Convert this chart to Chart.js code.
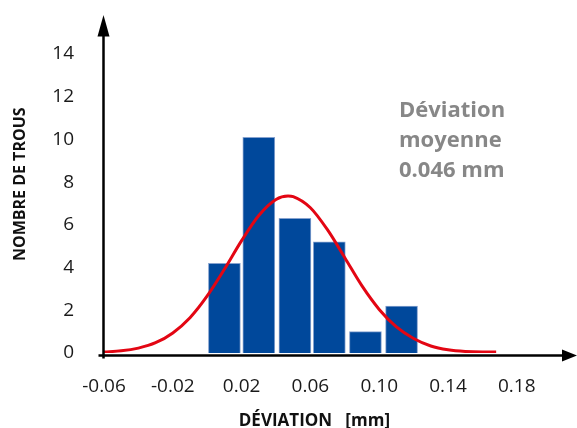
<!DOCTYPE html>
<html>
<head>
<meta charset="utf-8">
<script src="https://cdn.jsdelivr.net/npm/chart.js@4/dist/chart.umd.min.js"></script>
<style>
  html, body { margin: 0; padding: 0; background: #fff; }
  #wrap { width: 577px; height: 428px; position: relative; }
</style>
</head>
<body>
<div id="wrap"><canvas id="histChart"></canvas></div>
<script>
// histogram bins (centre of each bar, mm) and counts
const binCenters = [0.010, 0.030, 0.051, 0.071, 0.092, 0.113];
const binCounts = [4.2, 10.1, 6.3, 5.2, 1.0, 2.2];

// fitted normal curve
const curveX = [-0.06, -0.05, -0.04, -0.03, -0.02, -0.01, 0.00, 0.01, 0.02, 0.03, 0.04, 0.047,
  0.05, 0.06, 0.07, 0.08, 0.09, 0.10, 0.11, 0.12, 0.13, 0.14, 0.15, 0.16, 0.168];
const curveY = [0.05, 0.10, 0.23, 0.48, 0.94, 1.65, 2.67, 3.92, 5.26, 6.44, 7.19, 7.35,
  7.32, 6.80, 5.76, 4.46, 3.14, 2.04, 1.22, 0.68, 0.33, 0.15, 0.07, 0.05, 0.05];

// axis ticks
const xTickValues = [-0.06, -0.02, 0.02, 0.06, 0.10, 0.14, 0.18];
const xTickLabels = ["-0.06", "-0.02", "0.02", "0.06", "0.10", "0.14", "0.18"];
const yTickValues = [0, 2, 4, 6, 8, 10, 12, 14];

const noteLines = ["Déviation", "moyenne", "0.046 mm"];

const FONT = "'Open Sans', 'Noto Sans', sans-serif";

// axes with arrow heads + x title + note
const decorations = {
  id: "decorations",
  afterDraw(chart) {
    const ctx = chart.ctx;
    const xs = chart.scales.x;
    const ys = chart.scales.y;
    const x0 = xs.left - 0.5;
    const yBase = ys.bottom + 2.5;
    ctx.save();
    ctx.strokeStyle = "#000";
    ctx.fillStyle = "#000";
    ctx.lineWidth = 2.5;

    // y axis
    ctx.beginPath();
    ctx.moveTo(x0, yBase + 3);
    ctx.lineTo(x0, ys.top + 18);
    ctx.stroke();
    ctx.beginPath();
    ctx.moveTo(x0, ys.top - 0.5);
    ctx.lineTo(x0 - 6, ys.top + 21);
    ctx.lineTo(x0 + 6, ys.top + 21);
    ctx.closePath();
    ctx.fill();

    // x axis
    ctx.beginPath();
    ctx.moveTo(x0 - 5, yBase);
    ctx.lineTo(xs.right - 14, yBase);
    ctx.stroke();
    ctx.beginPath();
    ctx.moveTo(xs.right, yBase);
    ctx.lineTo(xs.right - 15, yBase - 6);
    ctx.lineTo(xs.right - 15, yBase + 6);
    ctx.closePath();
    ctx.fill();

    // x title
    ctx.font = "bold 17px " + FONT;
    ctx.fillStyle = "#111";
    ctx.textAlign = "center";
    ctx.textBaseline = "alphabetic";
    ctx.fillText("DÉVIATION   [mm]", xs.getPixelForValue(0.06) + 4, 426);

    // mean deviation note
    ctx.font = "bold 22px " + FONT;
    ctx.fillStyle = "#878787";
    ctx.textAlign = "left";
    noteLines.forEach((t, i) => {
      ctx.fillText(t, 399, 117 + i * 30);
    });
    ctx.restore();
  }
};

new Chart(document.getElementById("histChart"), {
  data: {
    datasets: [
      {
        type: "line",
        data: curveX.map((x, i) => ({ x: x, y: curveY[i] })),
        borderColor: "#e30613",
        borderWidth: 3,
        pointRadius: 0,
        cubicInterpolationMode: "monotone",
        fill: false,
        order: 0
      },
      {
        type: "bar",
        data: binCenters.map((x, i) => ({ x: x, y: binCounts[i] })),
        backgroundColor: "#00489b",
        borderColor: "#86a2cf",
        borderWidth: 1,
        barThickness: 32,
        grouped: false,
        order: 1
      }
    ]
  },
  options: {
    responsive: true,
    maintainAspectRatio: false,
    animation: false,
    layout: { autoPadding: false, padding: { top: 15.5, right: 0, bottom: 0, left: 0 } },
    plugins: {
      legend: { display: false },
      tooltip: { enabled: false }
    },
    scales: {
      x: {
        type: "linear",
        offset: false,
        min: -0.06,
        max: 0.215,
        grid: { display: false, drawTicks: false },
        border: { display: false },
        afterBuildTicks: (axis) => { axis.ticks = xTickValues.map(v => ({ value: v })); },
        afterFit: (axis) => {
          axis.height = 75;
          axis.paddingLeft = 0;
          axis.paddingRight = 0;
        },
        ticks: {
          padding: 22,
          autoSkip: false,
          maxRotation: 0,
          color: "#1a1a1a",
          font: { family: FONT, size: 19 },
          callback: (v) => {
            const i = xTickValues.findIndex(t => Math.abs(t - v) < 1e-9);
            return i >= 0 ? xTickLabels[i] : "";
          }
        }
      },
      y: {
        min: 0,
        max: 15.8,
        grid: { display: false, drawTicks: false },
        border: { display: false },
        afterBuildTicks: (axis) => { axis.ticks = yTickValues.map(v => ({ value: v })); },
        afterFit: (axis) => {
          axis.width = 104;
          axis.paddingTop = 0;
          axis.paddingBottom = 0;
        },
        ticks: {
          padding: 30,
          color: "#1a1a1a",
          font: { family: FONT, size: 19 }
        },
        title: {
          display: true,
          text: "NOMBRE DE TROUS",
          color: "#111",
          font: { family: FONT, size: 16, weight: "bold" },
          padding: { top: 11, bottom: 0 }
        }
      }
    }
  },
  plugins: [decorations]
});
</script>
</body>
</html>
